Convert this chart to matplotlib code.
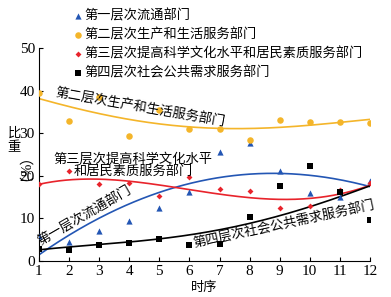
import numpy as np
import matplotlib.pyplot as plt

plt.rcParams['font.family'] = ['Liberation Serif', 'Noto Sans CJK SC']

t = np.arange(1, 13)
# observed shares (%)
first = [5.9, 4.3, 7.1, 9.4, 12.4, 16.1, 25.5, 27.6, 21.1, 15.9, 14.9, 18.7]
second = [39.5, 32.9, 38.6, 29.4, 35.5, 31.0, 30.9, 28.4, 33.1, 32.6, 32.6, 32.5]
third = [18.0, 21.1, 18.0, 18.2, 15.2, 19.8, 17.0, 16.4, 12.5, 12.9, 16.6, 18.2]
fourth = [2.7, 2.6, 3.6, 4.1, 5.0, 3.6, 3.9, 10.2, 17.7, 22.3, 16.1, 9.6]

# trend lines
trend_first = [1.5, 5.8, 10.0, 13.5, 16.2, 18.2, 19.5, 20.2, 20.6, 20.2, 19.1, 17.4]
trend_second = [38.2, 36.2, 34.7, 33.3, 32.2, 31.5, 31.1, 31.1, 31.5, 31.9, 32.5, 33.3]
trend_third = [18.0, 19.0, 19.2, 18.8, 17.8, 16.7, 15.6, 14.9, 14.5, 14.7, 15.6, 17.8]
trend_fourth = [2.6, 3.1, 3.9, 4.5, 5.1, 6.0, 7.2, 8.8, 10.8, 12.7, 14.9, 17.7]

names = ["第一层次流通部门", "第二层次生产和生活服务部门",
         "第三层次提高科学文化水平和居民素质服务部门", "第四层次社会公共需求服务部门"]
colors = ["#2356b4", "#f4b52a", "#e8232b", "#000000"]
markers = ["^", "o", "D", "s"]
sizes = [20, 22, 9, 24]

fig = plt.figure(figsize=(3.91, 2.97), dpi=100)
ax = fig.add_axes([0.0997, 0.1222, 0.8465, 0.715])

tt = np.linspace(1, 12, 200)
series = [first, second, third, fourth]
trends = [trend_first, trend_second, trend_third, trend_fourth]
for ys, tr, c, m, s, n in zip(series, trends, colors, markers, sizes, names):
    coef = np.polyfit(t, tr, 4)
    ax.plot(tt, np.polyval(coef, tt), color=c, lw=1.2, zorder=2)
    ax.scatter(t, ys, marker=m, s=s, color=c, label=n, zorder=3, linewidths=0)

ax.set_xlim(1, 12)
ax.set_ylim(0, 50)
ax.set_xticks(t)
ax.set_yticks([0, 10, 20, 30, 40, 50])
ax.tick_params(direction='in', length=3, labelsize=11, pad=3)
for sp in ['top', 'right']:
    ax.spines[sp].set_visible(False)
ax.set_xlabel("时序", fontsize=9.5, labelpad=3)

fig.text(0.036, 0.525, "比\n重", fontsize=9.5, ha='center', va='center', linespacing=1.25)
fig.text(0.036, 0.39, "（%）", fontsize=10.5, ha='center', va='center', rotation=270)

ax.text(4.36, 35.9, "第二层次生产和生活服务部门", fontsize=9.5, rotation=-10,
        ha='center', va='center')
ax.text(4.12, 22.5, "第三层次提高科学文化水平\n和居民素质服务部门", fontsize=9.5,
        ha='center', va='center', multialignment='center', linespacing=1.0)
ax.text(2.52, 10.6, "第一层次流通部门", fontsize=9.5, rotation=30,
        ha='center', va='center')
ax.text(9.14, 8.5, "第四层次社会公共需求服务部门", fontsize=9.5, rotation=12,
        ha='center', va='center')

fig.legend(loc='upper left', bbox_to_anchor=(0.165, 0.995), frameon=False,
           fontsize=9.5, handletextpad=0.1, handlelength=0.8, labelspacing=0.42,
           borderaxespad=0.2)

fig.savefig("out.png", dpi=100)
